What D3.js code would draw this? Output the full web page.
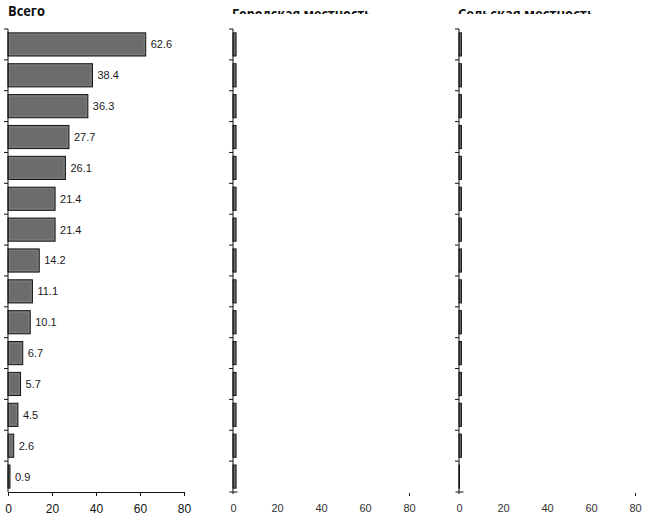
<!DOCTYPE html>
<html>
<head>
<meta charset="utf-8">
<script src="https://cdn.jsdelivr.net/npm/d3@7"></script>
<style>
  html, body { margin: 0; padding: 0; background: #fff; }
  svg { display: block; }
</style>
</head>
<body>
<svg id="chart" width="646" height="517"></svg>
<script>
// ---- data ----
const categories = ["c1","c2","c3","c4","c5","c6","c7","c8","c9","c10","c11","c12","c13","c14","c15"];
const totalValues = [62.6, 38.4, 36.3, 27.7, 26.1, 21.4, 21.4, 14.2, 11.1, 10.1, 6.7, 5.7, 4.5, 2.6, 0.9];
const urbanValues = [1.4, 1.4, 1.4, 1.4, 1.4, 1.4, 1.4, 1.4, 1.4, 1.4, 1.4, 1.4, 1.4, 1.4, 1.4];
const ruralValues = [1.1, 1.1, 1.1, 1.1, 1.1, 1.1, 1.1, 1.1, 1.1, 1.1, 1.1, 1.1, 1.1, 1.1, 0.2];
const panelTitles = ["Всего", "Городская местность", "Сельская местность"];
const xTicks = [0, 20, 40, 60, 80];

const panels = [
  {title: panelTitles[0], values: totalValues, x0: 8,   showLabels: true,  fullAxis: true,  clipTitle: false, titleW: 37},
  {title: panelTitles[1], values: urbanValues, x0: 233, showLabels: false, fullAxis: false, clipTitle: true,  titleW: 140},
  {title: panelTitles[2], values: ruralValues, x0: 459, showLabels: false, fullAxis: false, clipTitle: true,  titleW: 137}
];

const svg = d3.select("#chart");
const yTop = 29, yBottom = 492, plotW = 176;

const y = d3.scaleBand().domain(categories).range([yTop, yBottom])
  .paddingInner(0.25).paddingOuter(0.125);
const step = y.step();

svg.append("defs").append("clipPath").attr("id", "titleClip")
  .append("rect").attr("x", 0).attr("y", 0).attr("width", 646).attr("height", 14);

panels.forEach((p, pi) => {
  const x = d3.scaleLinear().domain([0, 80]).range([p.x0, p.x0 + plotW]);
  const g = svg.append("g");

  // title
  const t = g.append("text")
    .attr("x", p.x0 - (pi === 0 ? 0 : 1))
    .attr("y", p.clipTitle ? 19 : 15.5)
    .attr("font-family", "'Open Sans', 'Noto Sans', sans-serif")
    .attr("font-weight", 700)
    .attr("font-size", 15)
    .attr("fill", "#111")
    .attr("textLength", p.titleW)
    .attr("lengthAdjust", "spacingAndGlyphs")
    .text(p.title);
  if (p.clipTitle) t.attr("clip-path", "url(#titleClip)");

  // bars
  const data = categories.map((c, i) => ({c, v: p.values[i]}));
  g.selectAll("rect.bar").data(data).join("rect")
    .attr("class", "bar")
    .attr("x", x(0))
    .attr("y", d => y(d.c))
    .attr("width", d => Math.max(0.5, x(d.v) - x(0)))
    .attr("height", y.bandwidth())
    .attr("fill", "#6c6c6c")
    .attr("stroke", "#141414")
    .attr("stroke-width", 1);
  // subtle inner highlight line
  g.selectAll("rect.inner").data(data.filter(d => x(d.v) - x(0) > 4)).join("rect")
    .attr("class", "inner")
    .attr("x", x(0) + 1.5)
    .attr("y", d => y(d.c) + 1.5)
    .attr("width", d => x(d.v) - x(0) - 3)
    .attr("height", y.bandwidth() - 3)
    .attr("fill", "none")
    .attr("stroke", "#7e7e7e")
    .attr("stroke-width", 1);

  // value labels
  if (p.showLabels) {
    g.selectAll("text.val").data(data).join("text")
      .attr("class", "val")
      .attr("x", d => x(d.v) + 5)
      .attr("y", d => y(d.c) + y.bandwidth() / 2)
      .attr("dy", "0.36em")
      .attr("font-family", "'Liberation Sans', Arial, sans-serif")
      .attr("font-size", 11)
      .attr("fill", "#1a1a1a")
      .text(d => d.v.toFixed(1));
  }

  // vertical axis line + boundary ticks
  g.append("line")
    .attr("x1", x(0)).attr("x2", x(0))
    .attr("y1", yTop).attr("y2", p.fullAxis ? yBottom : yBottom + 2)
    .attr("stroke", "#111").attr("stroke-width", 1);
  g.selectAll("line.ytick").data(categories).join("line")
    .attr("class", "ytick")
    .attr("x1", x(0) - 4).attr("x2", x(0))
    .attr("y1", d => y(d) - step * 0.125)
    .attr("y2", d => y(d) - step * 0.125)
    .attr("stroke", "#111").attr("stroke-width", 1);

  // x axis
  const ax = g.append("g").attr("transform", `translate(0,${yBottom})`)
    .call(d3.axisBottom(x).tickValues(xTicks).tickSize(4).tickSizeOuter(0).tickPadding(8.5)
      .tickFormat(d3.format("d")));
  ax.selectAll("text")
    .attr("font-family", "'Liberation Sans', Arial, sans-serif")
    .attr("font-size", p.fullAxis ? 12 : 11)
    .attr("fill", p.fullAxis ? "#111" : "#333");
  ax.selectAll("line").attr("stroke", "#111");
  if (!p.fullAxis) {
    ax.select(".domain").remove();
    ax.selectAll(".tick line").attr("x1", d => d === 0 ? -4 : 0).attr("x2", d => d === 0 ? 4 : 0)
      .attr("y1", d => d === 0 ? 0 : 1)
      .attr("y2", d => d === 0 ? 0 : 4)
      .attr("opacity", d => (d === 0 || d === 80) ? 1 : 0);
  } else {
    ax.select(".domain").attr("stroke", "#111");
  }
});
</script>
</body>
</html>
